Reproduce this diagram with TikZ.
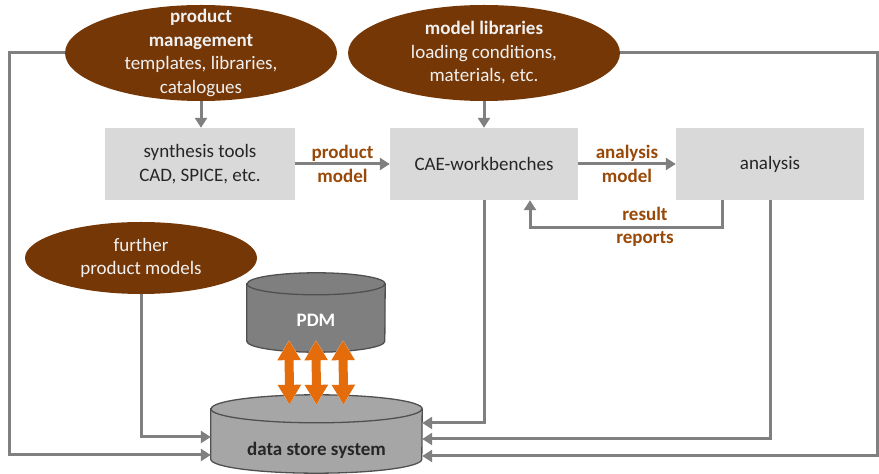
\documentclass[tikz,border=0pt]{standalone}
\usepackage{fontspec}
\setmainfont{Carlito}
\usetikzlibrary{shapes.geometric,arrows.meta,backgrounds,positioning}

\definecolor{ellbrown}{RGB}{118,55,6}
\definecolor{lblbrown}{RGB}{152,72,7}
\definecolor{boxgray}{RGB}{217,217,217}
\definecolor{linegray}{RGB}{128,128,128}
\definecolor{pdmgray}{RGB}{127,127,127}
\definecolor{dsgray}{RGB}{166,166,166}
\definecolor{edgegray}{RGB}{80,80,80}
\definecolor{pdmorange}{RGB}{228,108,10}

\newcommand{\diagfont}{\fontsize{19}{23.5}\selectfont}

% cylinder body around a named node: node, half width, cap radius
\newcommand{\cylbody}[3]{%
  \path[#1cyl] ([yshift=-#3]#1.north west) -- ([yshift=#3]#1.south west)
    arc[start angle=180, end angle=360, x radius=#2, y radius=#3]
    -- ([yshift=-#3]#1.north east)
    arc[start angle=0, end angle=180, x radius=#2, y radius=#3] -- cycle;
  \draw[#1cyl, fill=none] ([yshift=-#3]#1.north west)
    arc[start angle=180, end angle=360, x radius=#2, y radius=#3];
}

\tikzset{
  brownell/.style={ellipse, fill=ellbrown, inner sep=0pt},
  elltext/.style={text=white!94!black, align=center, inner sep=0pt},
  toolbox/.style={rectangle, fill=boxgray, minimum width=190pt, minimum height=72pt,
    align=center, text=black!85},
  cylbox/.style={rectangle, inner sep=0pt},
  pdmcyl/.style={fill=pdmgray, draw=edgegray, line width=1.3pt},
  dscyl/.style={fill=dsgray, draw=edgegray, line width=1.3pt},
  flow/.style={draw=linegray, line width=3pt, -{Triangle[width=12pt,length=10pt]}},
  flowlbl/.style={text=lblbrown, font=\diagfont\bfseries, align=center},
  pdmhalo/.style={draw=white, line width=11pt,
    {Triangle[width=26pt,length=23pt]}-{Triangle[width=26pt,length=23pt]}},
  pdmarrow/.style={draw=pdmorange, line width=9pt,
    {Triangle[width=22pt,length=20pt]}-{Triangle[width=22pt,length=20pt]}}
}

\begin{document}
\begin{tikzpicture}[x=1pt, y=1pt, font=\diagfont]
  \useasboundingbox (0,0) rectangle (879,474);

  % sources
  \node[brownell, minimum width=272pt, minimum height=96pt,
    label={[elltext]center:{\textbf{product}\\\textbf{management}\\templates, libraries,\\catalogues}}] (pm) at (201,421) {};
  \node[brownell, minimum width=272pt, minimum height=96pt,
    label={[elltext]center:{\textbf{model libraries}\\loading conditions,\\materials, etc.}}] (ml) at (484,421) {};
  \node[brownell, minimum width=232pt, minimum height=72pt,
    label={[elltext]center:{further\\product models}}] (fpm) at (141,216) {};

  % tools
  \node[toolbox] (synth) at (200,310) {synthesis tools\\CAD, SPICE, etc.};
  \node[toolbox, minimum width=188pt] (cae) at (484,310) {CAE-workbenches};
  \node[toolbox, minimum width=188pt] (ana) at (770,310) {analysis};

  % stores
  \node[cylbox, minimum width=138pt, minimum height=79pt] (pdm) at (316,161.5) {};
  \node[cylbox, minimum width=211pt, minimum height=78pt] (ds) at (316.5,40) {};
  \begin{scope}[on background layer]
    \cylbody{pdm}{69pt}{11pt}
    \cylbody{ds}{105.5pt}{14pt}
  \end{scope}
  \node[font=\diagfont\bfseries, text=white] (pdmname) at ([yshift=-8pt]pdm.center) {PDM};
  \node[font=\diagfont\bfseries, text=black!85] (dsname) at ([yshift=-16pt]ds.center) {data store system};

  % flows
  \draw[flow] (pm.south) -- (pm.south |- synth.north);
  \draw[flow] (ml.south) -- (cae.north);
  \draw[flow] (synth) -- (cae) node[flowlbl, midway] {product\\model};
  \draw[flow] (cae) -- (ana) node[flowlbl, midway] {analysis\\model};
  \draw[flow] ([xshift=-48pt]ana.south) -- ++(0,-27) -| ([xshift=46pt]cae.south);
  \node[flowlbl] (rr) at (645,247) {result\\reports};

  \draw[flow] (pm.west) -- ++(-55,0) |- ([yshift=-21pt]ds.west);
  \draw[flow] (fpm.south) |- ([yshift=-3pt]ds.west);
  \draw[flow] (cae.south) |- ([yshift=11pt]ds.east);
  \draw[flow] (ana.south) |- ([yshift=-5pt]ds.east);
  \draw[flow] (ml.east) -- ++(257,0) |- ([yshift=-22pt]ds.east);

  % PDM exchange
  \foreach \dx in {-27,0,27} {
    \draw[pdmhalo] ([shift={(\dx,12)}]pdm.south) -- ([shift={(\dx,-10)}]ds.north);
    \draw[pdmarrow] ([shift={(\dx,12)}]pdm.south) -- ([shift={(\dx,-10)}]ds.north);
  }
\end{tikzpicture}
\end{document}
